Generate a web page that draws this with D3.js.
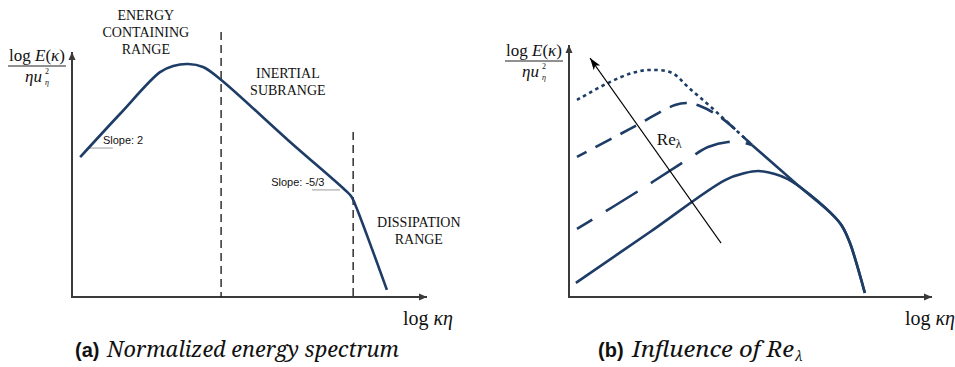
<!DOCTYPE html>
<html>
<head>
<meta charset="utf-8">
<script src="https://cdn.jsdelivr.net/npm/d3@7"></script>
<style>
  body { margin: 0; background: #fff; }
</style>
</head>
<body>
<div id="chart"></div>
<script>
// ---- panel (a): normalized energy spectrum, units of log(kappa eta) / log(E) on a 0..10 frame
var spectrumA = [[0.23,5.71],[1.35,7.47],[2.48,9.18],[2.85,9.43],[3.27,9.51],[3.69,9.39],[4.17,8.90],
                 [6.08,6.41],[7.69,4.37],[7.86,4.12],[7.97,3.80],[8.87,0.29]];
var rangeBounds = [[4.2,10.82],[7.92,6.73]];            // x, top of dashed divider
var regionNames = [["ENERGY","CONTAINING","RANGE"],["INERTIAL","SUBRANGE"],["DISSIPATION","RANGE"]];
var regionAt = [[2.08,11.31],[6.08,8.94],[9.77,2.86]];
var slopeNames = ["Slope: 2","Slope: -5/3"];
var slopeMarks = [[0.48,1.15,6.08,0.87,6.24],[6.76,7.55,4.37,5.61,4.53]]; // x0, x1, y, label x, label y

// ---- panel (b): influence of Re_lambda
var lowRe     = [[0.19,0.56],[2.23,2.58],[4.30,4.64],[4.85,4.92],[5.21,5.00],[5.67,4.88],[6.03,4.68],[6.36,4.37]];
var midRe     = [[0.22,2.70],[1.96,4.25],[3.33,5.52],[3.83,5.95],[4.38,6.15],[4.85,6.11],[5.04,6.03]];
var highRe    = [[0.22,5.56],[1.68,6.67],[2.92,7.62],[3.25,7.70],[3.61,7.58],[4.21,7.10],[5.04,6.03]];
var highestRe = [[0.22,7.82],[1.07,8.49],[1.74,8.89],[2.23,9.01],[2.84,8.89],[3.28,8.33],[3.94,7.50],[5.04,6.03]];
var commonTail = [[5.04,6.03],[6.36,4.37],[7.27,3.25],[7.52,2.82],[7.74,2.14],[8.15,0.16]];
var reArrow = [[4.19,2.14],[0.58,9.48]];
var reLabelAt = [2.42,6.03];

var W = 955, H = 367, curveColor = "#1d3c66", axisColor = "#3a3a3a";
var SERIF = "Liberation Serif", SANS = "Liberation Sans", CAPF = "Noto Serif";

var svg = d3.select("#chart").append("svg")
    .attr("width", W)
    .attr("height", H)
    .attr("font-family", SERIF)
    .style("fill", "#111");

var defs = svg.append("defs");
defs.append("marker")
    .attr("id", "axishead")
    .attr("viewBox", "-8 -4 9 8")
    .attr("refX", 0).attr("refY", 0)
    .attr("markerWidth", 9).attr("markerHeight", 8)
    .attr("markerUnits", "userSpaceOnUse")
    .attr("orient", "auto")
    .append("path").attr("d", "M0,0L-8,-3.5L-8,3.5Z").attr("fill", axisColor);
defs.append("marker")
    .attr("id", "rehead")
    .attr("viewBox", "-12 -5 13 10")
    .attr("refX", 0).attr("refY", 0)
    .attr("markerWidth", 13).attr("markerHeight", 10)
    .attr("markerUnits", "userSpaceOnUse")
    .attr("orient", "auto")
    .append("path").attr("d", "M0,0L-12,-4L-9,0L-12,4Z").attr("fill", "#000");

function panel(box) {
  var x = d3.scaleLinear().domain([0, 10]).range([box.left, box.right]);
  var y = d3.scaleLinear().domain([0, 10]).range([box.bottom, box.top]);
  var g = svg.append("g");

  g.append("line")
      .attr("x1", x(0)).attr("y1", y(0)).attr("x2", x(0)).attr("y2", y(10))
      .attr("stroke", axisColor).attr("stroke-width", 2)
      .attr("marker-end", "url(#axishead)");
  g.append("line")
      .attr("x1", x(0) - 1).attr("y1", y(0)).attr("x2", x(10)).attr("y2", y(0))
      .attr("stroke", axisColor).attr("stroke-width", 2)
      .attr("marker-end", "url(#axishead)");

  // y label as a fraction
  var lab = g.append("g").attr("transform", "translate(" + box.yl[0] + "," + box.yl[1] + ")");
  var t = lab.append("text").attr("text-anchor", "middle").attr("font-size", 17);
  t.append("tspan").text("log ");
  t.append("tspan").attr("font-style", "italic").text("E");
  t.append("tspan").text("(");
  t.append("tspan").attr("font-style", "italic").text("κ");
  t.append("tspan").text(")");
  lab.append("line").attr("x1", -29).attr("x2", 29).attr("y1", 5).attr("y2", 5)
      .attr("stroke", "#222").attr("stroke-width", 1);
  lab.append("text").attr("x", -12).attr("y", 21).attr("font-style", "italic")
      .attr("font-size", 17).text("ηu");
  lab.append("text").attr("x", 8).attr("y", 13).attr("font-size", 8).text("2");
  lab.append("text").attr("x", 8).attr("y", 24).attr("font-style", "italic")
      .attr("font-size", 8).text("η");

  var xl = g.append("text").attr("x", box.xl[0]).attr("y", box.xl[1])
      .attr("text-anchor", "end").attr("font-size", 20);
  xl.append("tspan").text("log ");
  xl.append("tspan").attr("font-style", "italic").text("κη");

  var cap = g.append("g");
  cap.append("text").attr("x", box.cap[0]).attr("y", box.cap[1])
      .attr("font-family", SANS).attr("font-size", 20).attr("font-weight", "bold").text(box.capTag);
  cap.append("text").attr("x", box.cap[2]).attr("y", box.cap[1])
      .attr("font-family", CAPF).attr("font-size", 21).attr("font-style", "italic")
      .attr("textLength", box.cap[3]).attr("lengthAdjust", "spacingAndGlyphs")
      .text(box.capText);
  if (box.capSub) {
    cap.append("text").attr("x", box.cap[2] + box.cap[3] + 1).attr("y", box.cap[1] + 4)
        .attr("font-family", CAPF).attr("font-size", 14).attr("font-style", "italic").text(box.capSub);
  }

  var line = d3.line()
      .x(function(d) { return x(d[0]); })
      .y(function(d) { return y(d[1]); })
      .curve(d3.curveCatmullRom.alpha(0.5));

  return { g: g, x: x, y: y, line: line };
}

// ---------- panel (a)
var a = panel({ left: 72, right: 427, top: 52, bottom: 297,
                yl: [37, 61], xl: [453, 325],
                cap: [75, 357, 107, 292], capTag: "(a)", capText: "Normalized energy spectrum" });

a.g.selectAll(".bound").data(rangeBounds).enter().append("line")
    .attr("class", "bound")
    .attr("x1", function(d) { return a.x(d[0]); })
    .attr("x2", function(d) { return a.x(d[0]); })
    .attr("y1", function(d) { return a.y(d[1]); })
    .attr("y2", a.y(0))
    .attr("stroke", "#222").attr("stroke-width", 1.4)
    .attr("stroke-dasharray", "8,5");

a.g.selectAll(".slope").data(slopeMarks).enter().append("line")
    .attr("x1", function(d) { return a.x(d[0]); })
    .attr("x2", function(d) { return a.x(d[1]); })
    .attr("y1", function(d) { return a.y(d[2]); })
    .attr("y2", function(d) { return a.y(d[2]); })
    .attr("stroke", "#9a9a9a").attr("stroke-width", 1);
a.g.selectAll(".slopelab").data(slopeMarks).enter().append("text")
    .attr("font-family", SANS)
    .attr("x", function(d) { return a.x(d[3]); })
    .attr("y", function(d) { return a.y(d[4]); })
    .attr("font-size", 11)
    .text(function(d, i) { return slopeNames[i]; });

a.g.append("path").datum(spectrumA)
    .attr("d", a.line)
    .attr("fill", "none").attr("stroke", curveColor).attr("stroke-width", 2.6);

regionNames.forEach(function(lines, i) {
  var tx = a.g.append("text").attr("text-anchor", "middle").attr("font-size", 14);
  lines.forEach(function(s, j) {
    tx.append("tspan").attr("x", a.x(regionAt[i][0])).attr("y", a.y(regionAt[i][1]) + j * 17).text(s);
  });
});

// ---------- panel (b)
var b = panel({ left: 569, right: 932, top: 45, bottom: 297,
                yl: [534, 56], xl: [955, 325],
                cap: [598, 357, 632, 162], capTag: "(b)", capText: "Influence of Re", capSub: "λ" });

var series = [
  { d: lowRe.concat(commonTail.slice(2)), dash: null },
  { d: midRe, dash: "37,16", off: 19 },
  { d: highRe, dash: "18,10", off: 7 },
  { d: highestRe, dash: "3.5,3.5", off: 0 },
  { d: commonTail, dash: null }
];
b.g.selectAll(".spec").data(series).enter().append("path")
    .attr("class", "spec")
    .attr("d", function(s) { return b.line(s.d); })
    .attr("fill", "none").attr("stroke", curveColor).attr("stroke-width", 2.6)
    .attr("stroke-dasharray", function(s) { return s.dash; })
    .attr("stroke-dashoffset", function(s) { return s.off || 0; });

b.g.append("line")
    .attr("x1", b.x(reArrow[0][0])).attr("y1", b.y(reArrow[0][1]))
    .attr("x2", b.x(reArrow[1][0])).attr("y2", b.y(reArrow[1][1]))
    .attr("stroke", "#000").attr("stroke-width", 1.1)
    .attr("marker-end", "url(#rehead)");

var rl = b.g.append("text").attr("x", b.x(reLabelAt[0])).attr("y", b.y(reLabelAt[1]))
    .attr("font-size", 17);
rl.append("tspan").text("Re");
rl.append("tspan").attr("dy", 3).attr("font-size", 12).text("λ");
</script>
</body>
</html>
